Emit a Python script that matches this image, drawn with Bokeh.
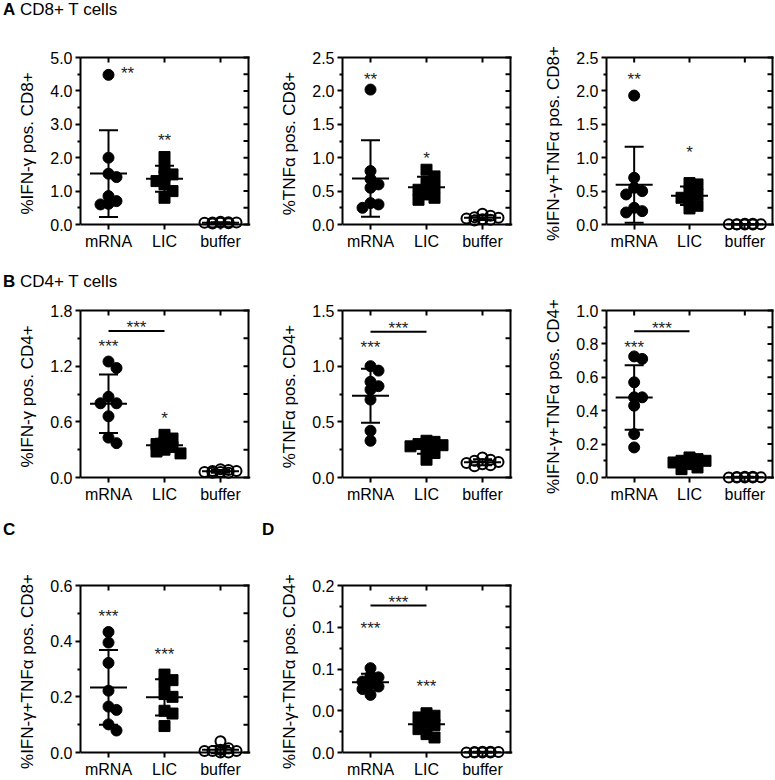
import numpy as np
from bokeh.plotting import figure
from bokeh.models import Range1d, FixedTicker, LinearAxis, Div, CustomJSTickFormatter
from bokeh.layouts import column, row
from bokeh.embed import file_html
from bokeh.resources import INLINE
from bokeh.core.properties import value

FONT = "Liberation Sans"
CATEGORIES = ["mRNA", "LIC", "buffer"]

# ---------------- data ----------------
A1_YLABEL = "%IFN-γ pos. CD8+"
A1_YTICKS = [0, 1, 2, 3, 4, 5]
A1_YTICK_LABELS = ["0.0", "1.0", "2.0", "3.0", "4.0", "5.0"]
A1_MRNA = [4.48, 2.00, 1.52, 1.42, 0.85, 0.70, 0.62, 0.60]
A1_LIC = [2.02, 1.70, 1.50, 1.45, 1.30, 1.20, 1.00, 0.80]
A1_BUF = [0.05, 0.08, 0.03, 0.06, 0.07, 0.04, 0.05, 0.06]
A1_SIG = [("mRNA", 4.66, "**", 19), ("LIC", 2.67, "**", 0)]
A1_BRACKET = None

A2_YLABEL = "%TNFα pos. CD8+"
A2_YTICKS = [0, 0.5, 1.0, 1.5, 2.0, 2.5]
A2_YTICK_LABELS = ["0.0", "0.5", "1.0", "1.5", "2.0", "2.5"]
A2_MRNA = [2.02, 0.80, 0.68, 0.60, 0.55, 0.32, 0.30, 0.25]
A2_LIC = [0.82, 0.72, 0.62, 0.56, 0.52, 0.45, 0.40, 0.37]
A2_BUF = [0.16, 0.13, 0.11, 0.10, 0.09, 0.08, 0.07, 0.06]
A2_SIG = [("mRNA", 2.25, "**", 0), ("LIC", 1.06, "*", 0)]
A2_BRACKET = None

A3_YLABEL = "%IFN-γ+TNFα pos. CD8+"
A3_YTICKS = [0, 0.5, 1.0, 1.5, 2.0, 2.5]
A3_YTICK_LABELS = ["0.0", "0.5", "1.0", "1.5", "2.0", "2.5"]
A3_MRNA = [1.93, 0.70, 0.55, 0.50, 0.45, 0.25, 0.20, 0.18]
A3_LIC = [0.62, 0.60, 0.50, 0.45, 0.40, 0.35, 0.28, 0.24]
A3_BUF = [0.01, 0.005, 0.0, 0.005, 0.0, 0.01, 0.005, 0.0]
A3_SIG = [("mRNA", 2.25, "**", 0), ("LIC", 1.15, "*", 0)]
A3_BRACKET = None

B1_YLABEL = "%IFN-γ pos. CD4+"
B1_YTICKS = [0, 0.6, 1.2, 1.8]
B1_YTICK_LABELS = ["0.0", "0.6", "1.2", "1.8"]
B1_MRNA = [1.25, 1.18, 0.87, 0.80, 0.80, 0.66, 0.43, 0.37]
B1_LIC = [0.46, 0.42, 0.38, 0.36, 0.33, 0.30, 0.28, 0.26]
B1_BUF = [0.08, 0.07, 0.06, 0.05, 0.07, 0.06, 0.09, 0.05]
B1_SIG = [("mRNA", 1.47, "***", 0), ("LIC", 0.69, "*", 0)]
B1_BRACKET = (1.58, 1.67, "***")

B2_YLABEL = "%TNFα pos. CD4+"
B2_YTICKS = [0, 0.5, 1.0, 1.5]
B2_YTICK_LABELS = ["0.0", "0.5", "1.0", "1.5"]
B2_MRNA = [1.00, 0.96, 0.86, 0.82, 0.79, 0.70, 0.42, 0.33]
B2_LIC = [0.33, 0.32, 0.30, 0.29, 0.28, 0.26, 0.22, 0.16]
B2_BUF = [0.18, 0.16, 0.15, 0.14, 0.13, 0.12, 0.11, 0.10]
B2_SIG = [("mRNA", 1.21, "***", 0)]
B2_BRACKET = (1.31, 1.38, "***")

B3_YLABEL = "%IFN-γ+TNFα pos. CD4+"
B3_YTICKS = [0, 0.2, 0.4, 0.6, 0.8, 1.0]
B3_YTICK_LABELS = ["0.0", "0.2", "0.4", "0.6", "0.8", "1.0"]
B3_MRNA = [0.725, 0.71, 0.57, 0.48, 0.48, 0.43, 0.26, 0.18]
B3_LIC = [0.12, 0.11, 0.10, 0.10, 0.09, 0.08, 0.06, 0.05]
B3_BUF = [0.0, 0.005, 0.0, 0.003, 0.0, 0.002, 0.0, 0.004]
B3_SIG = [("mRNA", 0.81, "***", 0)]
B3_BRACKET = (0.876, 0.924, "***")

C_YLABEL = "%IFN-γ+TNFα pos. CD8+"
C_YTICKS = [0, 0.2, 0.4, 0.6]
C_YTICK_LABELS = ["0.0", "0.2", "0.4", "0.6"]
C_MRNA = [0.433, 0.395, 0.322, 0.222, 0.165, 0.153, 0.101, 0.079]
C_LIC = [0.28, 0.26, 0.25, 0.21, 0.20, 0.15, 0.14, 0.095]
C_BUF = [0.005, 0.0, 0.005, 0.01, 0.005, 0.04, 0.015, 0.0]
C_SIG = [("mRNA", 0.508, "***", 0), ("LIC", 0.37, "***", 0)]
C_BRACKET = None

D_YLABEL = "%IFN-γ+TNFα pos. CD4+"
D_YTICKS = [0, 0.05, 0.10, 0.15, 0.20]
D_YTICK_LABELS = ["0.0", "0.0", "0.1", "0.1", "0.2"]
D_MRNA = [0.101, 0.092, 0.090, 0.085, 0.082, 0.079, 0.076, 0.069]
D_LIC = [0.047, 0.044, 0.042, 0.036, 0.033, 0.028, 0.022, 0.018]
D_BUF = [0.0005, 0.001, 0.0, 0.0, 0.0, 0.0005, 0.0, 0.001]
D_SIG = [("mRNA", 0.154, "***", 0), ("LIC", 0.0847, "***", 0)]
D_BRACKET = (0.176, 0.186, "***")

# ---------------- styling ----------------
VIS_H = 167      # px from 0 to top of y range
EPS = 7          # px of frame below zero so markers at 0 are not clipped
PAD = 2          # px of frame beyond the box so the box lines are not clipped
STEP = 8.0       # beeswarm step, px
MEAN_HW = 18.5   # px
CAP_HW = 9.5     # px
TICK = 5         # px
INK = "black"


def swarm(vals, ppy, step=STEP, thr=7.0, maxk=2):
    placed = []
    offs = [0.0] * len(vals)
    order = sorted(range(len(vals)), key=lambda i: -vals[i])
    cands = [0]
    for k in range(1, maxk + 1):
        cands += [k, -k]
    for i in order:
        y = vals[i] * ppy
        best, bestd = 0.0, -1.0
        for k in cands:
            x = k * step
            d = min([np.hypot(x - px, y - py) for px, py in placed], default=1e9)
            if d >= thr:
                best = x
                break
            if d > bestd:
                bestd, best = d, x
        offs[i] = best
        placed.append((best, y))
    return offs


def fmt(ticks, labels):
    return CustomJSTickFormatter(args=dict(tv=list(ticks), tl=list(labels)), code="""
        for (let i = 0; i < tv.length; i++) {
            if (Math.abs(tv[i] - tick) < 1e-9) { return tl[i]; }
        }
        return "";
    """)


def style_axis(ax):
    ax.axis_line_color = INK
    ax.axis_line_width = 2
    ax.major_tick_line_color = INK
    ax.major_tick_line_width = 2
    ax.minor_tick_line_color = INK
    ax.minor_tick_line_width = 2
    ax.major_label_text_font = FONT
    ax.major_label_text_color = INK
    ax.axis_label_text_font = FONT
    ax.axis_label_text_font_style = "normal"
    ax.axis_label_text_color = INK


def panel(ylabel, yticks, ylabels, groups, sig, bracket, fw, left, right, top, bottom):
    ymax = yticks[-1]
    ppy = VIS_H / ymax
    ppx = fw / 3.0
    xl, xr = -0.5, 2.5
    p = figure(frame_width=fw + PAD, frame_height=VIS_H + EPS + PAD,
               x_range=Range1d(xl, xr + PAD / ppx), y_range=Range1d(-EPS / ppy, ymax + PAD / ppy),
               x_axis_location=None, y_axis_location=None,
               output_backend="svg", toolbar_location=None,
               min_border_left=left, min_border_right=right,
               min_border_top=top, min_border_bottom=bottom)
    p.outline_line_color = None
    p.xgrid.visible = False
    p.ygrid.visible = False

    minor = [(a + b) / 2 for a, b in zip(yticks[:-1], yticks[1:])]
    la = LinearAxis(ticker=FixedTicker(ticks=yticks, minor_ticks=minor), bounds=(0, ymax),
                    formatter=fmt(yticks, ylabels), axis_label=ylabel)
    style_axis(la)
    la.major_tick_out, la.major_tick_in = TICK, 0
    la.minor_tick_out, la.minor_tick_in = 3, 0
    la.major_label_standoff = 3
    la.axis_label_standoff = 10
    la.major_label_text_font_size = "16px"
    la.axis_label_text_font_size = "17px"
    p.add_layout(la, "left")

    cat_idx = list(range(len(CATEGORIES)))
    # x axis line and ticks drawn at y = 0
    ba = LinearAxis(ticker=FixedTicker(ticks=cat_idx), fixed_location=0,
                    major_label_text_font_size="16px", formatter=fmt(cat_idx, CATEGORIES))
    style_axis(ba)
    ba.major_tick_out, ba.major_tick_in = TICK, 0
    ba.minor_tick_in, ba.minor_tick_out = 0, 0
    p.add_layout(ba, "below")
    # category labels in the panel below
    lab = LinearAxis(ticker=FixedTicker(ticks=cat_idx), formatter=fmt(cat_idx, CATEGORIES))
    style_axis(lab)
    lab.axis_line_color = None
    lab.major_tick_line_color = None
    lab.major_tick_out, lab.major_tick_in = 0, 0
    lab.minor_tick_in, lab.minor_tick_out = 0, 0
    lab.major_label_standoff = 1
    lab.major_label_text_font_size = "16px"
    p.add_layout(lab, "below")

    # closed box: top and right sides with inward ticks
    rticks = sorted(yticks + minor)
    p.segment(x0=[xl, xr], x1=[xr, xr], y0=[ymax, 0], y1=[ymax, ymax],
              line_color=INK, line_width=2, line_cap="square")
    p.segment(x0=[xr] * len(rticks), x1=[xr - TICK / ppx] * len(rticks), y0=rticks, y1=rticks,
              line_color=INK, line_width=2)
    p.segment(x0=cat_idx, x1=cat_idx, y0=[ymax] * 3, y1=[ymax - TICK / ppy] * 3,
              line_color=INK, line_width=2)

    marks = [dict(marker="circle", size=11, fill_color=INK, line_color=INK, line_width=1),
             dict(marker="square", size=11, fill_color=INK, line_color=INK, line_width=1),
             dict(marker="circle", size=10, fill_color=None, line_color=INK, line_width=2)]
    stats = []
    for i, vals in enumerate(groups):
        offs = swarm(vals, ppy)
        xs = [i + o / ppx for o in offs]
        p.scatter(x=xs, y=vals, **marks[i])
        stats.append((i, float(np.mean(vals)), float(np.std(vals, ddof=1))))
    for i, m, sd in stats:
        p.segment(x0=[i - MEAN_HW / ppx, i, i - CAP_HW / ppx, i - CAP_HW / ppx],
                  x1=[i + MEAN_HW / ppx, i, i + CAP_HW / ppx, i + CAP_HW / ppx],
                  y0=[m, m - sd, m + sd, m - sd], y1=[m, m + sd, m + sd, m - sd],
                  line_color=INK, line_width=2)

    if sig:
        p.text(x=[CATEGORIES.index(c) + dx / ppx for c, y, t, dx in sig],
               y=[y for c, y, t, dx in sig], text=[t for c, y, t, dx in sig],
               text_align="center", text_baseline="middle", y_offset=5,
               text_font=value(FONT), text_font_size="17px", text_color="#222222")
    if bracket:
        yb, yt, t = bracket
        p.segment(x0=[CATEGORIES.index("mRNA")], x1=[CATEGORIES.index("LIC")], y0=[yb], y1=[yb],
                  line_color=INK, line_width=2)
        p.text(x=[(CATEGORIES.index("mRNA") + CATEGORIES.index("LIC")) / 2], y=[yt], text=[t],
               text_align="center", text_baseline="middle", y_offset=5,
               text_font=value(FONT), text_font_size="17px", text_color="#222222")
    return p


def header(letter, rest, w, h=22):
    return Div(text=f"<b>{letter}</b>&nbsp;{rest}", width=w, height=h, margin=0,
               styles={"font-family": FONT, "font-size": "17px", "line-height": "20px",
                       "color": "black", "padding-left": "3px", "box-sizing": "border-box"})


# row A
fA1 = panel(A1_YLABEL, A1_YTICKS, A1_YTICK_LABELS, [A1_MRNA, A1_LIC, A1_BUF], A1_SIG, A1_BRACKET, 168, 80, 12, 33, 41)
fA2 = panel(A2_YLABEL, A2_YTICKS, A2_YTICK_LABELS, [A2_MRNA, A2_LIC, A2_BUF], A2_SIG, A2_BRACKET, 168, 80, 12, 33, 41)
fA3 = panel(A3_YLABEL, A3_YTICKS, A3_YTICK_LABELS, [A3_MRNA, A3_LIC, A3_BUF], A3_SIG, A3_BRACKET, 166, 82, 0, 33, 41)
# row B
fB1 = panel(B1_YLABEL, B1_YTICKS, B1_YTICK_LABELS, [B1_MRNA, B1_LIC, B1_BUF], B1_SIG, B1_BRACKET, 168, 80, 12, 14, 36)
fB2 = panel(B2_YLABEL, B2_YTICKS, B2_YTICK_LABELS, [B2_MRNA, B2_LIC, B2_BUF], B2_SIG, B2_BRACKET, 168, 80, 12, 14, 36)
fB3 = panel(B3_YLABEL, B3_YTICKS, B3_YTICK_LABELS, [B3_MRNA, B3_LIC, B3_BUF], B3_SIG, B3_BRACKET, 166, 82, 0, 14, 36)
# row C / D
fC = panel(C_YLABEL, C_YTICKS, C_YTICK_LABELS, [C_MRNA, C_LIC, C_BUF], C_SIG, C_BRACKET, 168, 80, 12, 41, 19)
fD = panel(D_YLABEL, D_YTICKS, D_YTICK_LABELS, [D_MRNA, D_LIC, D_BUF], D_SIG, D_BRACKET, 168, 80, 12, 41, 19)

layout = column(
    header("A", "CD8+ T cells", 774),
    row(fA1, fA2, fA3),
    header("B", "CD4+ T cells", 774),
    row(fB1, fB2, fB3),
    row(header("C", "", 259), header("D", "", 300)),
    row(fC, fD),
)

open("out.html", "w").write(file_html(layout, INLINE, title="CD8+ and CD4+ T cells"))
